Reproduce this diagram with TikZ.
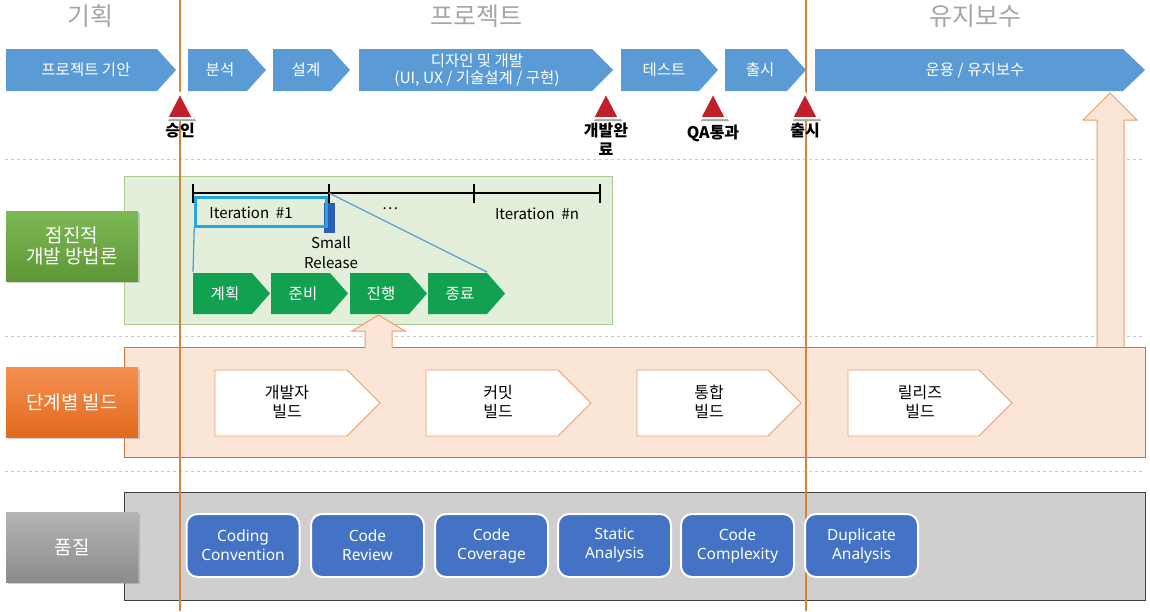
\documentclass[tikz,border=0pt]{standalone}
\usepackage{fontspec}
\setmainfont{Noto Sans CJK KR}
\newfontfamily\latinf{Noto Sans}
\usetikzlibrary{shadows}
\definecolor{barblue}{HTML}{5B9BD5}
\definecolor{vline}{HTML}{D9823B}
\definecolor{msred}{HTML}{C0202A}
\definecolor{greenbg}{HTML}{E3EFDA}
\definecolor{greenbd}{HTML}{A9CD90}
\definecolor{chgreen}{HTML}{12A150}
\definecolor{peach}{HTML}{FBE5D6}
\definecolor{peachbd}{HTML}{E8A070}
\definecolor{buildbd}{HTML}{C87537}
\definecolor{graybg}{HTML}{D0CECE}
\definecolor{qblue}{HTML}{4472C4}
\definecolor{itcyan}{HTML}{22A7E0}
\definecolor{relblue}{HTML}{2E5DB5}
\definecolor{hdrgray}{HTML}{A6A6A6}
\definecolor{sepgray}{HTML}{C8C8C8}
\newcommand\chevron[6]{\fill[#6] (#1,#2) -- ({#3-#5},#2) -- (#3,{(#2+#4)/2}) -- ({#3-#5},#4) -- (#1,#4) -- cycle;}
\newcommand\mstone[2]{%
  \fill[black!35] ({#1+2},{96}) -- ({#1+16},{121}) -- ({#1-12},{121}) -- cycle;
  \filldraw[fill=msred, draw=white, line width=2pt, line join=miter] (#1,93) -- ({#1+13},118) -- ({#1-13},118) -- cycle;
  \coordinate (#2) at (#1,118);}
\tikzset{
  hdr/.style={text=hdrgray, font=\fontsize{25}{27}\selectfont},
  toptxt/.style={text=white, font=\fontsize{15.5}{18}\selectfont, align=center},
  mslbl/.style={font=\bfseries\fontsize{16}{19}\selectfont, align=center, inner sep=0pt},
  sidelbl/.style={minimum width=132pt, minimum height=70pt, text=white, align=center,
     font=\fontsize{19}{23}\selectfont, drop shadow={shadow xshift=2pt, shadow yshift=-2pt, opacity=0.35}},
  gtxt/.style={text=white, font=\fontsize{15.5}{18}\selectfont},
  btxt/.style={text=black, font=\fontsize{16}{19}\selectfont, align=center},
  qbox/.style={fill=qblue, draw=white, line width=2pt, rounded corners=11pt, minimum width=113pt,
     minimum height=63pt, text=white, align=center, font=\latinf\fontsize{15.5}{19}\selectfont},
  sep/.style={sepgray, dashed, line width=1pt},
  itline/.style={barblue, line width=1.3pt},
  itxt/.style={font=\fontsize{15}{20}\selectfont},
}
\begin{document}
\begin{tikzpicture}[x=1pt,y=-1pt]
\useasboundingbox (0,0) rectangle (1150,611);
\fill[white] (0,0) rectangle (1150,611);
% headers
\node[hdr] (h1) at (90,16) {기획};
\node[hdr] (h2) at (476,16) {프로젝트};
\node[hdr] (h3) at (975,16) {유지보수};
% separators
\draw[sep] (5,159) -- (1145,159);
\draw[sep] (5,336) -- (1145,336);
\draw[sep] (5,471) -- (1145,471);
% region boxes
\filldraw[fill=greenbg, draw=greenbd, line width=1pt] (124,176) rectangle (612,324);
\filldraw[fill=peach, draw=buildbd, line width=1pt] (124,347) rectangle (1145,457);
\filldraw[fill=graybg, draw=black!75, line width=1pt] (124,492) rectangle (1145,600);
% right up arrow
\filldraw[fill=peach, draw=peachbd, line width=1pt] (1097,347) -- (1097,120) -- (1083,120) -- (1110,93) -- (1137,120) -- (1124,120) -- (1124,347);
% orange vertical lines
\draw[vline, line width=2pt] (180,0) -- (180,611);
\draw[vline, line width=2pt] (806,0) -- (806,611);
% top bar
\chevron{6}{49}{176}{91}{19}{barblue}
\chevron{188}{49}{266}{91}{19}{barblue}
\chevron{273}{49}{350}{91}{19}{barblue}
\chevron{359}{49}{613}{91}{21}{barblue}
\chevron{621}{49}{718}{91}{19}{barblue}
\chevron{725}{49}{806}{91}{19}{barblue}
\chevron{815}{49}{1145}{91}{22}{barblue}
\node[toptxt] (t1) at (86,70) {프로젝트 기안};
\node[toptxt] (t2) at (220,70) {분석};
\node[toptxt] (t3) at (306,70) {설계};
\node[toptxt] (t4) at (477,70) {디자인 및 개발\\[-1pt](UI, UX / 기술설계 / 구현)};
\node[toptxt] (t5) at (664,70) {테스트};
\node[toptxt] (t6) at (760,70) {출시};
\node[toptxt] (t7) at (975,70) {운용 / 유지보수};
% milestones
\mstone{180}{m1}
\mstone{606}{m2}
\mstone{713}{m3}
\mstone{805}{m4}
\node[mslbl, anchor=north] (l1) at (180,123) {승인};
\node[mslbl, anchor=north] (l2) at (606,123) {개발완\\료};
\node[mslbl, anchor=north] (l3) at (713,125) {QA통과};
\node[mslbl, anchor=north] (l4) at (805,123) {출시};
% side labels
\node[sidelbl, top color={rgb,255:red,125;green,185;blue,85}, bottom color={rgb,255:red,95;green,150;blue,55}] (s1) at (72,246) {점진적\\[-2pt]개발 방법론};
\node[sidelbl, top color={rgb,255:red,244;green,145;blue,80}, bottom color={rgb,255:red,226;green,105;blue,30}] (s2) at (72,402) {단계별 빌드};
\node[sidelbl, top color={rgb,255:red,180;green,180;blue,180}, bottom color={rgb,255:red,140;green,140;blue,140}] (s3) at (72,547) {품질};
% timeline
\draw[black, line width=2.5pt] (193,193) -- (600,193);
\foreach \x/\n in {193/k1,329/k2,474/k3,600/k4}{
  \draw[black, line width=2pt] (\x,184) -- (\x,203);
  \coordinate (\n) at (\x,193);
}
\fill[relblue] (324,203) rectangle (335,233);
\node[draw=itcyan, line width=2.5pt, minimum width=131pt, minimum height=29pt, inner sep=0pt] (it1) at (261,212) {};
\node[itxt] (it1t) at (251,213) {Iteration\ \ \#1};
\node[itxt] (dots) at (390,209) {…};
\node[itxt] (itn) at (537,214) {Iteration\ \ \#n};
\node[itxt, align=center] (sr) at (331,253) {Small\\Release};
% green chevrons
\chevron{193}{273}{270}{314}{18}{chgreen}
\chevron{271}{273}{348}{314}{18}{chgreen}
\chevron{350}{273}{427}{314}{18}{chgreen}
\chevron{428}{273}{505}{314}{18}{chgreen}
\coordinate (g1) at (193,272);
\coordinate (g4) at (487,272);
\node[gtxt] (p1) at (225,294) {계획};
\node[gtxt] (p2) at (303,294) {준비};
\node[gtxt] (p3) at (381,294) {진행};
\node[gtxt] (p4) at (460,294) {종료};
\draw[itline] (it1.south west) -- (g1);
\draw[itline] (k2) -- (g4);
% small up arrow
\filldraw[fill=peach, draw=peachbd, line width=1pt] (365,348) -- (365,331) -- (352,331) -- (378.5,315) -- (405,331) -- (392,331) -- (392,348);
% build chevrons
\foreach \a/\b in {215/380,426/591,637/801,848/1012}{
  \filldraw[fill=white, draw=peachbd, line width=0.8pt] (\a,370) -- ({\b-33},370) -- (\b,403) -- ({\b-33},436) -- (\a,436) -- cycle;
}
\node[btxt] (b1) at (287,402) {개발자\\빌드};
\node[btxt] (b2) at (498,402) {커밋\\빌드};
\node[btxt] (b3) at (709,402) {통합\\빌드};
\node[btxt] (b4) at (920,402) {릴리즈\\빌드};
% quality boxes
\node[qbox] (q1) at (243,545.5) {Coding\\Convention};
\node[qbox] (q2) at (367.5,545.5) {Code\\Review};
\node[qbox] (q3) at (491.5,545.5) {Code\\Coverage};
\node[qbox] (q4) at (614.5,545.5) {Static\\Analysis};
\node[qbox] (q5) at (737.5,545.5) {Code\\Complexity};
\node[qbox] (q6) at (861.5,545.5) {Duplicate\\Analysis};
\end{tikzpicture}
\end{document}
